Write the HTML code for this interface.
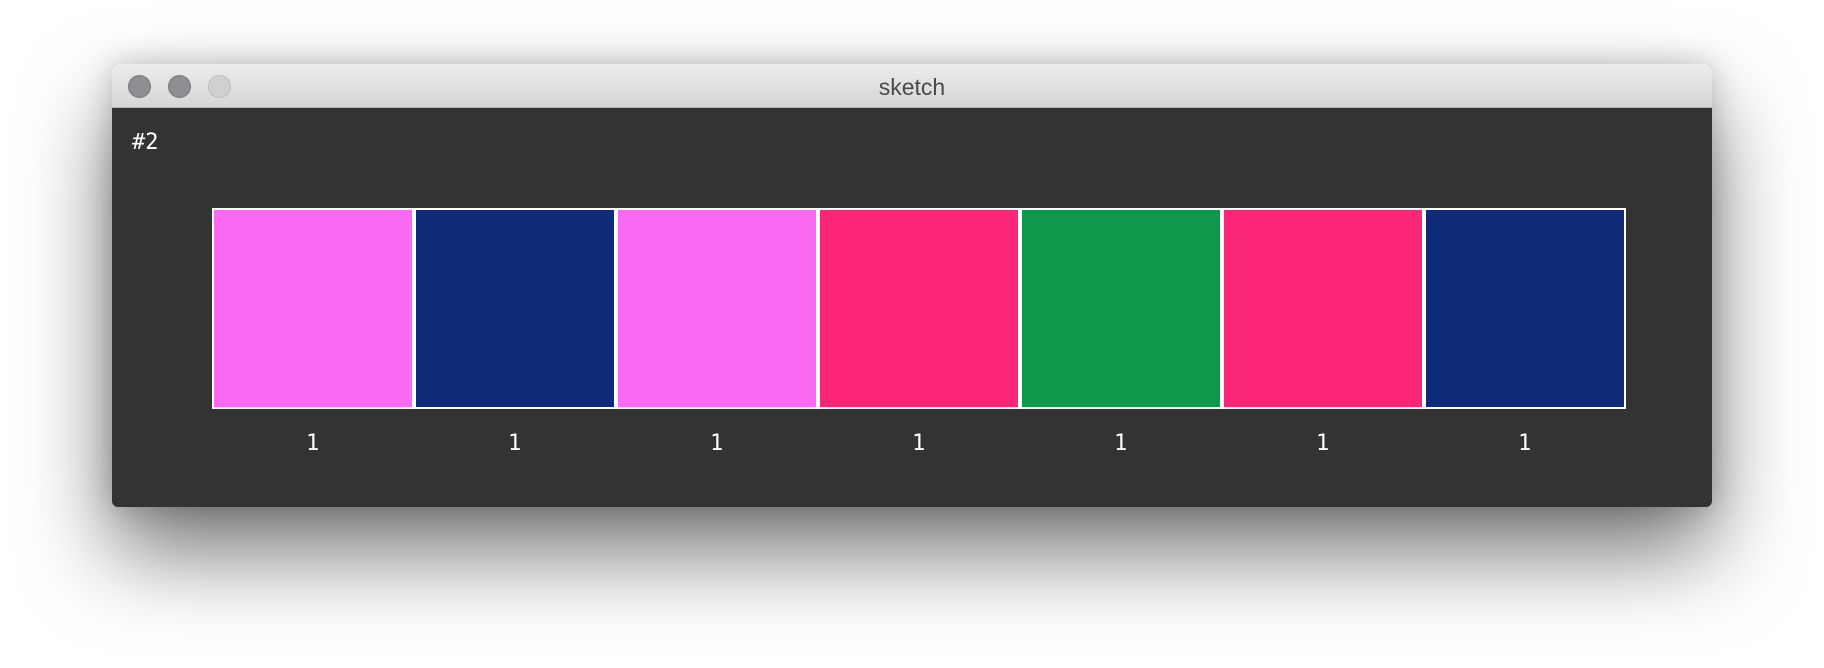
<!DOCTYPE html>
<html><head><style>
html,body{margin:0;padding:0;width:1824px;height:668px;background:#fff;overflow:hidden;position:relative;font-family:"Liberation Sans",sans-serif}
.win{position:absolute;left:112px;top:64px;width:1600px;height:443px;border-radius:6px;box-shadow:0 45px 90px rgba(0,0,0,0.55),0 0 30px rgba(0,0,0,0.2);background:#333;overflow:hidden}
.tb{position:absolute;left:0;top:0;width:1600px;height:44px;background:linear-gradient(#ececec,#d6d6d6);border-bottom:1px solid #b5b5b5;box-sizing:border-box}
.dot{position:absolute;top:11px;width:23px;height:23px;border-radius:50%;background:#8e8d92;border:1px solid #7a797e;box-sizing:border-box}
.title{position:absolute;left:0;width:1600px;top:10px;text-align:center;font-size:23px;color:#4a4a4a}
.mono{font-family:"DejaVu Sans Mono","Liberation Mono",monospace;color:#fff;position:absolute}
.box{position:absolute;top:210px;height:197px;width:198px}
</style></head><body>
<div class="win">
<div class="tb">
<div class="dot" style="left:16px"></div>
<div class="dot" style="left:56px"></div>
<div class="dot" style="left:96px;background:#d0d0d0;border-color:#bcbcbc"></div>
<div class="title">sketch</div>
</div>
</div>
<div class="mono" style="left:132px;top:130px;font-size:22px">#2</div>
<div style="position:absolute;left:212px;top:208px;width:1414px;height:201px;background:#fff"></div>
<div class="box" style="left:214px;background:#fa69f2"></div>
<div class="box" style="left:416px;background:#0f2a77"></div>
<div class="box" style="left:618px;background:#fa69f2"></div>
<div class="box" style="left:820px;background:#fc2676"></div>
<div class="box" style="left:1022px;background:#0f974c"></div>
<div class="box" style="left:1224px;background:#fc2676"></div>
<div class="box" style="left:1426px;background:#0f2a77"></div>
<div class="mono" style="left:306px;top:431px;font-size:22px">1</div>
<div class="mono" style="left:508px;top:431px;font-size:22px">1</div>
<div class="mono" style="left:710px;top:431px;font-size:22px">1</div>
<div class="mono" style="left:912px;top:431px;font-size:22px">1</div>
<div class="mono" style="left:1114px;top:431px;font-size:22px">1</div>
<div class="mono" style="left:1316px;top:431px;font-size:22px">1</div>
<div class="mono" style="left:1518px;top:431px;font-size:22px">1</div>
</body></html>
